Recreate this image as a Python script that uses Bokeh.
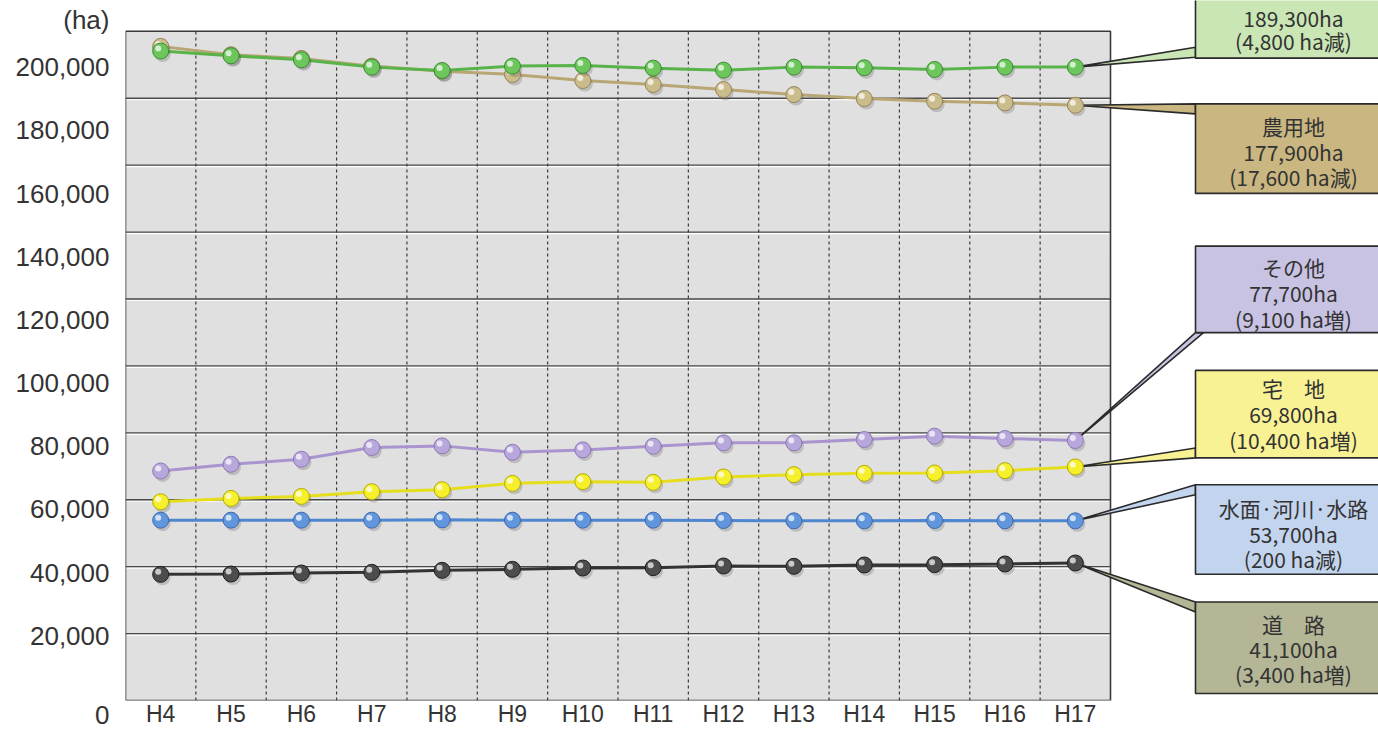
from bokeh.plotting import figure
from bokeh.models import Range1d, LinearAxis, FixedTicker, NumeralTickFormatter
from bokeh.core.properties import value
from bokeh.embed import file_html
from bokeh.resources import INLINE

# ---------------- data ----------------
years = ["H4", "H5", "H6", "H7", "H8", "H9", "H10", "H11", "H12", "H13", "H14", "H15", "H16", "H17"]
forest = [194100, 192700, 191500, 189300, 188300, 189600, 189800, 189000, 188400, 189300, 189100, 188600, 189300, 189300]
farmland = [195500, 193000, 191900, 189600, 188100, 187100, 185300, 184100, 182600, 181100, 179900, 179100, 178600, 177900]
other = [68600, 70600, 72100, 75600, 76100, 74200, 74900, 76000, 77000, 77000, 78000, 79000, 78300, 77700]
residential = [59400, 60400, 61000, 62400, 63000, 64900, 65400, 65200, 66800, 67500, 67900, 68000, 68700, 69800]
water = [53900, 53900, 53900, 53900, 54000, 53900, 53900, 53900, 53800, 53700, 53700, 53800, 53700, 53700]
road = [37700, 37800, 38100, 38300, 38900, 39200, 39600, 39700, 40200, 40100, 40500, 40600, 40800, 41100]
y_ticks = [0, 20000, 40000, 60000, 80000, 100000, 120000, 140000, 160000, 180000, 200000]
unit_label = "(ha)"

callout_titles = ["", "農用地", "その他", "宅　地", "水面·河川·水路", "道　路"]
callout_amounts = ["189,300ha", "177,900ha", "77,700ha", "69,800ha", "53,700ha", "41,100ha"]
callout_changes = ["(4,800 ha減)", "(17,600 ha減)", "(9,100 ha増)", "(10,400 ha増)", "(200 ha減)", "(3,400 ha増)"]

# ---------------- layout (canvas pixels) ----------------
W, H = 1378, 729
FL = 125            # frame / panel left
FB = 704            # frame / panel bottom
PANEL_RIGHT = 1110
PANEL_TOP = 31
n = len(years)
PXU = (PANEL_RIGHT - FL) / n
XEND = -0.5 + (W - FL) / PXU
YTOP = y_ticks[-1]
YEND = YTOP * FB / (FB - PANEL_TOP)


def fx(x):
    return FL + (x + 0.5) * PXU


def fy(v):
    return FB - v / YEND * FB


# the printed tick labels sit below their grid lines; give them their own scale
LAB_TOP_PX, LAB_LOW_PX, UNIT_PX = 67, 639, 20
slope = (LAB_LOW_PX - LAB_TOP_PX) / (y_ticks[-1] - y_ticks[1])
LBL_END = y_ticks[-1] + LAB_TOP_PX / slope
LBL_START = y_ticks[1] - (FB - LAB_LOW_PX) / slope
UNIT_TICK = int(round(LBL_END - UNIT_PX / slope))

AX_FONT = "Liberation Sans"
JP_FONT = "Noto Sans CJK JP"

p = figure(width=W, height=H, x_range=Range1d(-0.5, XEND), y_range=Range1d(0, YEND),
           output_backend="svg", toolbar_location=None, y_axis_location=None,
           min_border_left=FL, min_border_right=0, min_border_top=0, min_border_bottom=H - FB,
           background_fill_color="white", border_fill_color="white", outline_line_color=None)
p.grid.visible = False
p.extra_x_ranges = {"px": Range1d(FL, W)}
p.extra_y_ranges = {"py": Range1d(FB, 0), "lbl": Range1d(LBL_START, LBL_END)}

# x axis
xs = list(range(n))
xa = p.xaxis[0]
xa.ticker = FixedTicker(ticks=xs)
xa.major_label_overrides = {i: years[i] for i in xs}
xa.axis_line_color = None
xa.major_tick_line_color = None
xa.minor_tick_line_color = None
xa.major_tick_out = 0
xa.major_tick_in = 0
xa.major_label_standoff = 0
xa.axis_label_standoff = 0
xa.major_label_text_font = AX_FONT
xa.major_label_text_font_size = "23px"
xa.major_label_text_color = "#333333"

# y axis
ya = LinearAxis(y_range_name="lbl", ticker=FixedTicker(ticks=y_ticks + [UNIT_TICK]),
                formatter=NumeralTickFormatter(format="0,0"))
ya.major_label_overrides = {0: "\n0", UNIT_TICK: unit_label}
ya.axis_line_color = None
ya.major_tick_line_color = None
ya.minor_tick_line_color = None
ya.major_tick_out = 0
ya.major_tick_in = 0
ya.major_label_standoff = 16
ya.major_label_text_font = AX_FONT
ya.major_label_text_font_size = "26px"
ya.major_label_text_color = "#333333"
p.add_layout(ya, "left")

# panel
p.quad(left=-0.5, right=n - 0.5, bottom=0, top=YTOP, fill_color="#e0e0e0", line_color=None)
grid_vals = y_ticks[1:-1]
dv = 1.5 * YEND / FB
p.segment(x0=[-0.5] * len(grid_vals), x1=[n - 0.5] * len(grid_vals),
          y0=[v - dv for v in grid_vals], y1=[v - dv for v in grid_vals],
          line_color="white", line_width=1.2)
p.segment(x0=[-0.5] * len(grid_vals), x1=[n - 0.5] * len(grid_vals), y0=grid_vals, y1=grid_vals,
          line_color="#4a4a4a", line_width=1.4)
vx = [i + 0.5 for i in range(n - 1)]
p.segment(x0=vx, x1=vx, y0=[0] * len(vx), y1=[YTOP] * len(vx),
          line_color="#3a3a3a", line_width=1.2, line_dash="3 3")
p.quad(left=-0.5, right=n - 0.5, bottom=0, top=YTOP, fill_color=None, line_color="#3a3a3a", line_width=1.6)

# ---------------- callouts ----------------
series = [forest, farmland, other, residential, water, road]
box_fill = ["#cae6b5", "#c9b680", "#c8c2e3", "#f8f295", "#c3d4ee", "#b4b696"]
BOX_L, BOX_R, TXT_X = 1195, 1400, 1293
box_spec = [  # top, bottom, text rows, wedge base (x1, y1, x2, y2)
    (-30, 58, [18, 41], (BOX_L, 47, BOX_L, 57)),
    (104, 194, [126, 152, 178], (BOX_L, 104, BOX_L, 114)),
    (247, 334, [268, 294, 320], (BOX_L, 334, BOX_L + 8, 334)),
    (372, 460, [390, 416, 442], (BOX_L, 450, BOX_L, 460)),
    (487, 577, [510, 537, 562], (BOX_L, 487, BOX_L, 497)),
    (605, 697, [627, 652, 677], (BOX_L, 605, BOX_L, 615)),
]
for k, (top, bot, rows, base) in enumerate(box_spec):
    ax, ay = fx(n - 1), fy(series[k][-1])
    p.patch(x=[ax, base[0], base[2]], y=[ay, base[1], base[3]], x_range_name="px", y_range_name="py",
            fill_color=box_fill[k], line_color="#2a2a2a", line_width=1.6)
    p.quad(left=BOX_L, right=BOX_R, top=top, bottom=bot, x_range_name="px", y_range_name="py",
           fill_color=box_fill[k], line_color="#2a2a2a", line_width=1.6)
    texts = [t for t in (callout_titles[k], callout_amounts[k], callout_changes[k]) if t]
    p.text(x=[TXT_X] * len(texts), y=rows, text=texts, x_range_name="px", y_range_name="py",
           text_font=value(JP_FONT), text_font_size="21px", text_color="#333333",
           text_align="center", text_baseline="middle")

# ---------------- series ----------------
line_cols = ["#58b348", "#b8a674", "#a994cf", "#e6de1c", "#4f86d0", "#333333"]
dot_cols = ["#6cc65c", "#cbbd8b", "#b8a7da", "#f6ef2c", "#6296dc", "#4d4d4d"]
edge_cols = ["#3d8c34", "#94845a", "#8c78b6", "#b4aa00", "#3a69b0", "#1e1e1e"]
sdx = 2 / PXU
sdy = 3 * YEND / FB
hdx = -2.5 / PXU
hdy = 2.5 * YEND / FB
draw_order = [5, 4, 3, 2, 1, 0]
for k in draw_order:
    p.line(xs, series[k], line_color=line_cols[k], line_width=3)
for k in draw_order:
    vals = series[k]
    p.scatter([x + sdx for x in xs], [v - sdy for v in vals], size=16, fill_color="#555555",
              fill_alpha=0.25, line_color=None)
    p.scatter(xs, vals, size=16, fill_color=dot_cols[k], line_color=edge_cols[k], line_width=1)
    p.scatter([x + hdx for x in xs], [v + hdy for v in vals], size=6, fill_color="white",
              fill_alpha=0.7, line_color=None)

open("out.html", "w").write(file_html(p, INLINE))
